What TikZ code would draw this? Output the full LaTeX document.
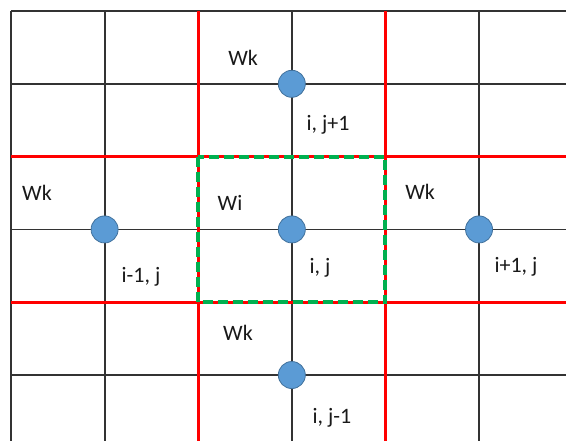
\documentclass[tikz,border=0pt]{standalone}
\usepackage{fontspec}
\setmainfont{Carlito}
\definecolor{nodeBlue}{RGB}{91, 155, 213}
\definecolor{nodeEdge}{RGB}{65, 113, 156}
\definecolor{cvGreen}{RGB}{0, 176, 80}
\usetikzlibrary{positioning}

\begin{document}
\begin{tikzpicture}[x=46.8pt, y=-36.4pt,
  gridline/.style={draw=black!80, line width=0.9pt},
  redline/.style={draw=red, line width=1.6pt},
  cvbox/.style={draw=cvGreen, line width=2pt, dash pattern=on 5pt off 2.5pt},
  cell/.style={circle, fill=nodeBlue, draw=nodeEdge, line width=0.4pt,
               minimum size=13.5pt, inner sep=0pt},
  lab/.style={font=\fontsize{11}{13}\selectfont, text=black!90},
]
  \useasboundingbox (-0.1175,-0.151) rectangle (5.929,5.907);

  % mesh
  \foreach \i in {0,...,5} {
    \draw[gridline] (\i,0) -- (\i,5.907);
    \draw[gridline] (0,\i) -- (5.929,\i);
  }
  % control volume faces
  \foreach \i in {2,4} {
    \draw[redline] (\i,0) -- (\i,5.907);
    \draw[redline] (0,\i) -- (5.929,\i);
  }
  \draw[cvbox] (2,2) rectangle (4,4);

  % nodes
  \node[cell] (P) at (3,3) {};
  \node[cell] (N) at (3,1) {};
  \node[cell] (S) at (3,5) {};
  \node[cell] (W) at (1,3) {};
  \node[cell] (E) at (5,3) {};

  % labels
  \node[lab] (wkN) at (2.479,0.646) {Wk};
  \node[lab] (wkW) at (0.278,2.5) {Wk};
  \node[lab] (wi) at (2.34,2.637) {Wi};
  \node[lab] (wkE) at (4.37,2.486) {Wk};
  \node[lab] (wkS) at (2.425,4.423) {Wk};
  \node[lab] (labN) at (3.387,1.566) {i, j+1};
  \node[lab] (labW) at (1.389,3.654) {i-1, j};
  \node[lab] (labP) at (3.301,3.530) {i, j};
  \node[lab] (labE) at (5.395,3.516) {i+1, j};
  \node[lab] (labS) at (3.429,5.591) {i, j-1};
\end{tikzpicture}
\end{document}
